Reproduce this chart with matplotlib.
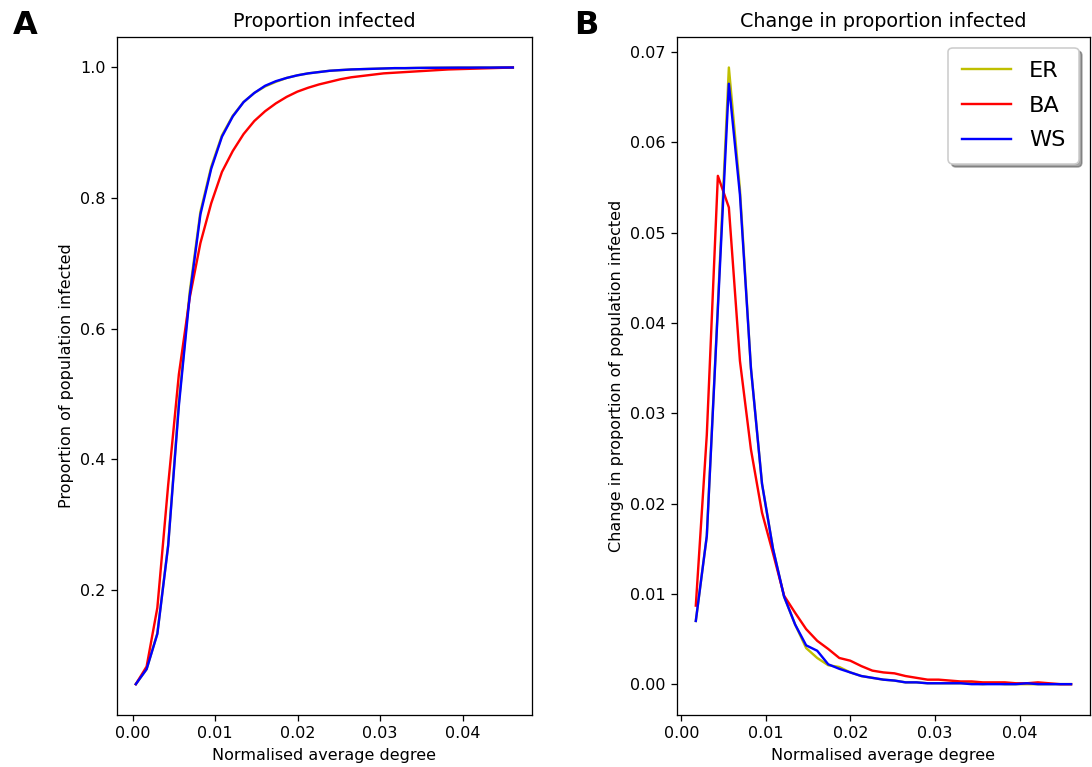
import numpy as np
from matplotlib import pyplot as plt

# normalised average degree (left panel); right panel uses degree[1:]
degree = [0.0004, 0.00171, 0.00301, 0.00432, 0.00562, 0.00693, 0.00823, 0.00954,
          0.01084, 0.01215, 0.01346, 0.01476, 0.01607, 0.01737, 0.01868, 0.01998,
          0.02129, 0.02259, 0.0239, 0.0252, 0.02651, 0.02781, 0.02912, 0.03043,
          0.03173, 0.03304, 0.03434, 0.03565, 0.03695, 0.03826, 0.03956, 0.04087,
          0.04217, 0.04348, 0.04479, 0.04609]

er_prop = [0.055, 0.078, 0.133, 0.268, 0.487, 0.656, 0.779, 0.848, 0.896, 0.926,
           0.947, 0.961, 0.971, 0.978, 0.984, 0.988, 0.991, 0.993, 0.995, 0.996,
           0.997, 0.9975, 0.998, 0.9985, 0.999, 0.999, 0.9993, 0.9995, 0.9996, 0.9997,
           0.9998, 0.9998, 0.9999, 0.9999, 1.0, 1.0]
ba_prop = [0.055, 0.082, 0.172, 0.360, 0.530, 0.647, 0.731, 0.792, 0.840, 0.872,
           0.898, 0.918, 0.933, 0.945, 0.955, 0.963, 0.969, 0.974, 0.978, 0.982,
           0.985, 0.987, 0.989, 0.991, 0.992, 0.993, 0.994, 0.995, 0.996, 0.997,
           0.9975, 0.998, 0.9985, 0.999, 0.9995, 1.0]
ws_prop = [0.055, 0.078, 0.132, 0.267, 0.482, 0.650, 0.775, 0.845, 0.894, 0.925,
           0.947, 0.961, 0.972, 0.979, 0.984, 0.988, 0.991, 0.993, 0.995, 0.996,
           0.997, 0.9975, 0.998, 0.9985, 0.999, 0.999, 0.9993, 0.9995, 0.9996, 0.9997,
           0.9998, 0.9998, 0.9999, 0.9999, 1.0, 1.0]

er_change = [0.0070, 0.0164, 0.0420, 0.0683, 0.0548, 0.0350, 0.0222, 0.0150, 0.0097,
             0.0066, 0.0040, 0.0029, 0.0021, 0.0019, 0.0013, 0.0009, 0.0007, 0.0005,
             0.0004, 0.0002, 0.0002, 0.0001, 0.0001, 0.0001, 0.0001, 0.0001, 0.0000,
             0.0001, 0.0000, 0.0000, 0.0000, 0.0000, 0.0000, 0.0000, 0.0000]
ba_change = [0.0087, 0.0276, 0.0563, 0.0528, 0.0358, 0.0260, 0.0190, 0.0145, 0.0098,
             0.0079, 0.0061, 0.0048, 0.0039, 0.0029, 0.0026, 0.0020, 0.0015, 0.0013,
             0.0012, 0.0009, 0.0007, 0.0005, 0.0005, 0.0004, 0.0003, 0.0003, 0.0002,
             0.0002, 0.0002, 0.0001, 0.0001, 0.0002, 0.0001, 0.0000, 0.0000]
ws_change = [0.0070, 0.0164, 0.0416, 0.0665, 0.0542, 0.0350, 0.0222, 0.0150, 0.0097,
             0.0066, 0.0043, 0.0037, 0.0022, 0.0017, 0.0013, 0.0009, 0.0007, 0.0005,
             0.0004, 0.0002, 0.0002, 0.0001, 0.0001, 0.0001, 0.0001, 0.0000, 0.0000,
             0.0000, 0.0000, 0.0000, 0.0001, 0.0000, 0.0000, 0.0000, 0.0000]

fig = plt.figure(figsize=(1092 / 115, 767 / 115), dpi=115)
ax1 = fig.add_axes([0.1071, 0.0678, 0.3798, 0.8844])
ax2 = fig.add_axes([0.6200, 0.0678, 0.3780, 0.8844])

ax1.plot(degree, er_prop, 'y', label='ER')
ax1.plot(degree, ba_prop, 'r', label='BA')
ax1.plot(degree, ws_prop, 'b', label='WS')
ax1.set_title('Proportion infected')
ax1.set_xlabel('Normalised average degree')
ax1.set_ylabel('Proportion of population infected')

ax2.plot(degree[1:], er_change, 'y', label='ER')
ax2.plot(degree[1:], ba_change, 'r', label='BA')
ax2.plot(degree[1:], ws_change, 'b', label='WS')
ax2.set_title('Change in proportion infected')
ax2.set_xlabel('Normalised average degree')
ax2.set_ylabel('Change in proportion of population infected')
ax2.legend(loc='upper right', shadow=True, fontsize=14, handlelength=2.2,
           labelspacing=0.65, borderpad=0.6)

fig.text(0.012, 0.967, 'A', fontsize=20, fontweight='bold', va='center')
fig.text(0.526, 0.967, 'B', fontsize=20, fontweight='bold', va='center')

plt.savefig('out.png', dpi=115)
